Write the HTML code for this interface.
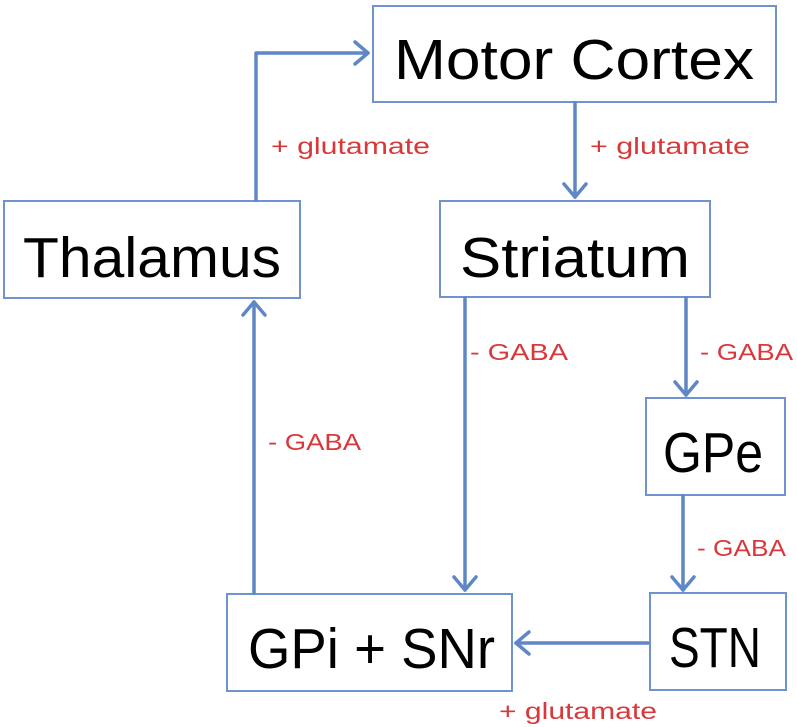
<!DOCTYPE html>
<html><head><meta charset="utf-8"><style>
html,body{margin:0;padding:0;background:#fff;}
svg{display:block;}
</style></head><body>
<svg width="797" height="727" viewBox="0 0 797 727" xmlns="http://www.w3.org/2000/svg" font-family="Liberation Sans Narrow, Liberation Sans, sans-serif">
<g fill="#fff" stroke="#6e93cf" stroke-width="2">
<rect x="373" y="6" width="403" height="96"/>
<rect x="4" y="201" width="296" height="97"/>
<rect x="440" y="201" width="270" height="96"/>
<rect x="646" y="398" width="139" height="97"/>
<rect x="650" y="593" width="136" height="97"/>
<rect x="227" y="594" width="285" height="97"/>
</g>
<g fill="none" stroke="#5f87c6" stroke-width="3.5" stroke-linejoin="round" stroke-linecap="round">
<path d="M256 200 V53 H368"/><path d="M355 42 L368 53 L355 64"/>
<path d="M575 103 V197"/><path d="M564 184 L575 197 L586 184"/>
<path d="M465 298 V590"/><path d="M454 577 L465 590 L476 577"/>
<path d="M686 298 V395"/><path d="M675 382 L686 395 L697 382"/>
<path d="M683 496 V590"/><path d="M672 577 L683 590 L694 577"/>
<path d="M648 643 H516"/><path d="M529 632 L516 643 L529 654"/>
<path d="M254 593 V302"/><path d="M243 315 L254 302 L265 315"/>
</g>
<g fill="#000" font-size="57">
<text x="394" y="79" textLength="360" lengthAdjust="spacingAndGlyphs">Motor Cortex</text>
<text x="23" y="277" textLength="258" lengthAdjust="spacingAndGlyphs">Thalamus</text>
<text x="460" y="277" textLength="230" lengthAdjust="spacingAndGlyphs">Striatum</text>
<text x="663" y="472" textLength="100" lengthAdjust="spacingAndGlyphs">GPe</text>
<text x="669" y="667" textLength="92" lengthAdjust="spacingAndGlyphs">STN</text>
<text x="248" y="668" textLength="247" lengthAdjust="spacingAndGlyphs">GPi + SNr</text>
</g>
<g fill="#d9383a" font-size="23">
<text x="271" y="154" textLength="159" lengthAdjust="spacingAndGlyphs">+ glutamate</text>
<text x="590" y="154" textLength="160" lengthAdjust="spacingAndGlyphs">+ glutamate</text>
<text x="470" y="360" textLength="98" lengthAdjust="spacingAndGlyphs">- GABA</text>
<text x="700" y="360" textLength="93" lengthAdjust="spacingAndGlyphs">- GABA</text>
<text x="268" y="450" textLength="93" lengthAdjust="spacingAndGlyphs">- GABA</text>
<text x="697" y="556" textLength="89" lengthAdjust="spacingAndGlyphs">- GABA</text>
<text x="499" y="719" textLength="158" lengthAdjust="spacingAndGlyphs">+ glutamate</text>
</g>
</svg>
</body></html>
